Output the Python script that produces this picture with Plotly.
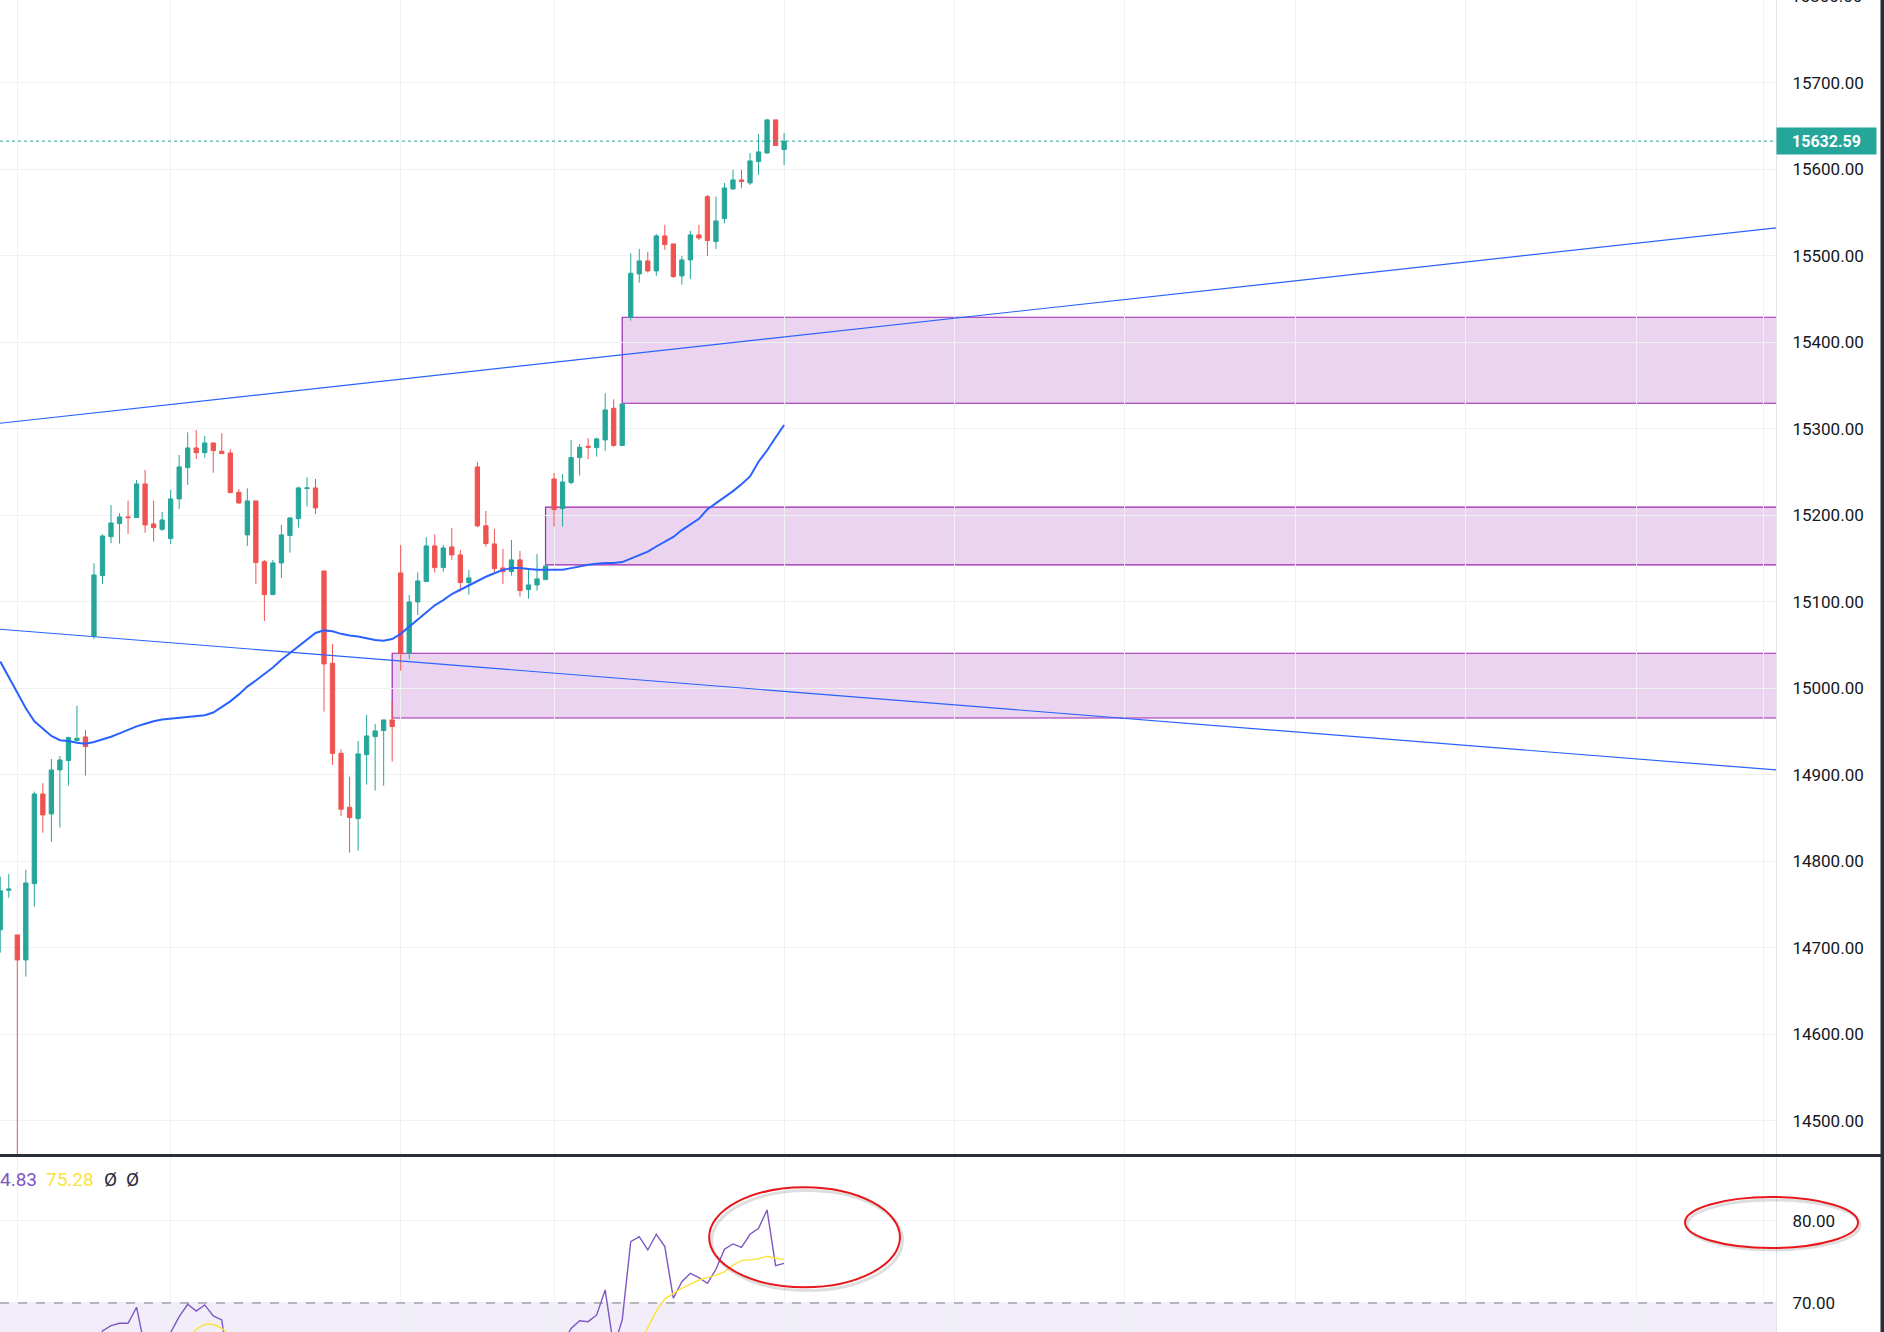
import plotly.graph_objects as go

# ---------------- data ----------------
candle_idx = list(range(-2, 91))

opens = [14720.8, 14766.6, 14714.9, 14686.0, 14774.2, 14877.9, 14854.8, 14905.7, 14916.5, 14939.6,
         14943.8, 15060.6, 15130.3, 15175.4, 15190.5, 15198.2, 15197.4, 15236.3, 15190.1, 15183.9,
         15173.1, 15219.0, 15255.2, 15277.9, 15272.5, 15283.7, 15274.1, 15272.1, 15226.7, 15177.4,
         15216.7, 15146.5, 15108.4, 15145.0, 15176.6, 15196.2, 15231.0, 15231.7, 15135.7, 15029.0,
         14924.9, 14862.5, 14849.4, 14923.4, 14944.2, 14951.1, 14963.5, 15133.4, 15040.6, 15099.9,
         15123.4, 15164.7, 15139.6, 15163.5, 15154.3, 15122.3, 15256.0, 15187.9, 15167.0, 15139.2,
         15135.0, 15148.5, 15114.2, 15119.6, 15125.7, 15242.1, 15207.8, 15237.9, 15266.8, 15279.9,
         15278.3, 15287.2, 15323.8, 15280.7, 15429.0, 15479.1, 15494.2, 15482.6, 15523.1, 15513.8,
         15476.8, 15495.3, 15524.2, 15568.5, 15516.5, 15543.1, 15577.4, 15587.8, 15584.3, 15609.0,
         15619.0, 15657.2, 15622.9]
highs = [14782.3, 14785.4, 14714.9, 14790.1, 14880.6, 14890.3, 14918.4, 14921.9, 14944.2, 14980.0,
         14951.9, 15144.6, 15178.1, 15212.0, 15202.4, 15217.0, 15240.9, 15252.5, 15217.0, 15203.9,
         15229.4, 15269.8, 15296.0, 15298.7, 15291.8, 15283.7, 15294.9, 15276.4, 15230.5, 15231.3,
         15216.7, 15148.5, 15148.5, 15188.9, 15197.8, 15233.2, 15244.0, 15242.1, 15135.7, 15051.3,
         14929.6, 14898.0, 14939.2, 14969.3, 14958.9, 14963.5, 14984.7, 15165.8, 15108.0, 15134.2,
         15174.7, 15178.1, 15165.8, 15185.5, 15160.0, 15136.9, 15261.8, 15205.1, 15184.3, 15161.2,
         15171.6, 15158.9, 15137.7, 15155.4, 15146.5, 15249.0, 15247.9, 15287.2, 15282.6, 15289.1,
         15289.9, 15341.2, 15334.2, 15328.8, 15503.0, 15508.0, 15504.6, 15525.4, 15535.8, 15513.8,
         15499.9, 15528.8, 15535.8, 15570.5, 15568.5, 15584.3, 15599.4, 15599.4, 15619.0, 15641.0,
         15658.3, 15657.2, 15642.1]
lows = [14694.5, 14758.0, 14380.0, 14666.7, 14747.6, 14833.2, 14822.8, 14839.0, 14887.6, 14938.4,
        14899.1, 15056.7, 15120.7, 15167.7, 15167.3, 15178.5, 15197.4, 15180.0, 15169.6, 15182.0,
        15166.9, 15207.4, 15235.2, 15265.2, 15266.8, 15249.4, 15271.4, 15226.3, 15213.2, 15164.6,
        15120.7, 15077.9, 15108.4, 15127.6, 15156.9, 15185.8, 15210.1, 15201.6, 14973.1, 14911.5,
        14852.5, 14810.1, 14812.4, 14888.7, 14881.8, 14887.6, 14915.3, 15020.5, 15033.6, 15084.9,
        15123.4, 15133.8, 15135.0, 15148.5, 15111.9, 15108.4, 15186.2, 15163.9, 15132.3, 15120.7,
        15130.4, 15106.1, 15103.8, 15113.0, 15125.7, 15187.0, 15187.0, 15235.9, 15246.0, 15264.9,
        15267.9, 15274.9, 15279.5, 15280.7, 15425.2, 15469.1, 15480.7, 15476.8, 15506.9, 15474.5,
        15466.8, 15473.3, 15518.4, 15499.9, 15508.0, 15537.7, 15576.2, 15578.2, 15582.0, 15593.6,
        15618.0, 15627.5, 15605.1]
closes = [14765.9, 14768.0, 14686.0, 14775.0, 14877.9, 14853.7, 14905.7, 14917.2, 14943.1, 14942.3,
          14932.7, 15131.1, 15176.2, 15191.2, 15198.2, 15197.4, 15236.3, 15188.9, 15185.8, 15194.7,
          15219.0, 15256.0, 15277.9, 15272.5, 15283.7, 15274.8, 15271.4, 15226.3, 15214.3, 15216.7,
          15145.4, 15108.4, 15145.0, 15177.4, 15197.0, 15231.7, 15231.7, 15208.6, 15028.2, 14924.9,
          14860.2, 14850.6, 14924.2, 14945.0, 14950.8, 14963.5, 14955.8, 15040.6, 15099.9, 15124.2,
          15164.7, 15139.6, 15162.3, 15154.3, 15122.3, 15127.7, 15187.8, 15167.4, 15138.5, 15135.0,
          15148.5, 15113.0, 15119.6, 15126.5, 15141.5, 15206.7, 15238.6, 15266.8, 15278.7, 15278.7,
          15288.4, 15321.9, 15280.7, 15328.8, 15479.9, 15494.2, 15482.6, 15523.1, 15513.0, 15476.0,
          15495.3, 15524.2, 15520.7, 15517.7, 15540.4, 15578.5, 15587.8, 15585.9, 15609.8, 15620.2,
          15657.2, 15627.5, 15632.59]

# moving average (blue) read at each candle
ma_values = [15031, 15013, 14995, 14977, 14962, 14954, 14945, 14940, 14939, 14937,
             14936, 14938, 14941, 14944, 14948, 14952, 14956, 14959, 14962, 14964,
             14965, 14966, 14967, 14968, 14969, 14972, 14978, 14985, 14993, 15002,
             15009, 15016, 15024, 15033, 15041, 15049, 15056, 15064, 15067, 15066,
             15063, 15061, 15060, 15058, 15056, 15055, 15057, 15063, 15071, 15080,
             15088, 15096, 15102, 15109, 15114, 15119, 15124, 15129, 15133, 15137,
             15139, 15139, 15138, 15137, 15137, 15137, 15137, 15139, 15141, 15143,
             15144, 15145, 15145, 15146, 15150, 15154, 15158, 15164, 15170, 15175,
             15183, 15190, 15196, 15207, 15214, 15220, 15228, 15236, 15245, 15262,
             15275, 15290, 15304.5]

# RSI (purple) per candle
rsi_values = [55, 56, 50, 57, 62, 59, 61, 62, 63, 63,
              62, 62, 66.6, 67.23, 67.52, 67.52, 69.48, 64.4, 63.5, 63.8,
              66.4, 68.33, 69.84, 69.02, 69.76, 68.41, 67.93, 60.4, 58.5, 58.8,
              52, 49, 53, 56, 58, 61, 61, 58, 47, 40,
              36, 35, 43, 45, 46, 47, 46, 55, 58, 60,
              63, 60, 62, 61, 57, 57.5, 62.5, 60, 57, 57,
              58.5, 55, 55.5, 56.5, 58, 62.5, 65.0, 66.9, 67.84, 67.72,
              68.54, 71.59, 64.6, 67.93, 77.48, 78.09, 76.46, 78.38, 76.87, 70.57,
              72.6, 73.62, 73.09, 72.40, 74.11, 76.55, 77.20, 76.79, 78.38, 79.11,
              81.34, 74.55, 74.83]

# RSI-based MA (yellow), visible stretches
rsi_ma_x_a = list(range(19, 27))
rsi_ma_y_a = [64.5, 65.5, 66.8, 67.4, 67.4, 66.9, 66.0, 65.0]
rsi_ma_x_b = list(range(72, 91))
rsi_ma_y_b = [63.0, 65.0, 67.0, 69.0, 70.5, 71.2, 71.8, 72.3, 72.8, 73.1,
              73.4, 73.8, 74.6, 75.2, 75.25, 75.4, 75.7, 75.45, 75.28]

# trend lines (index, price)
trend_up_x = [-3, 207]
trend_up_y = [15305.4, 15533.0]
trend_dn_x = [-3, 207]
trend_dn_y = [15069.1, 14905.2]

# fair value gap boxes: (start index, bottom, top)
fvg_start = [71, 62, 44]
fvg_bottom = [15329.6, 15142.7, 14965.7]
fvg_top = [15429.0, 15209.4, 15040.6]

last_price = 15632.59
price_ticks = [14500, 14600, 14700, 14800, 14900, 15000, 15100, 15200, 15300, 15400, 15500, 15600, 15700]
top_cut_tick = 15800
rsi_ticks = [70, 80]
grid_idx = [0, 18, 45, 63, 90, 110, 130, 150, 170, 190, 205]

rsi_legend_vals = ["4.83", "75.28"]

# ---------------- styling ----------------
W, H = 1884, 1332
PLOT_W = 1776
UP = "#26a69a"
DN = "#ef5350"
BLUE = "#2962ff"
GRID = "#f0f1f3"
TXT = "#131722"
FONT = "Roboto"

X_RANGE = [-2.03, 206.42]
PRICE_RANGE = [14460.5, 15795.8]
RSI_RANGE = [66.46, 87.8]


def px(xpix):
    return xpix / PLOT_W


def py(ypix):
    return 1 - ypix / H


fig = go.Figure()

fig.add_trace(go.Candlestick(
    x=candle_idx, open=opens, high=highs, low=lows, close=closes,
    increasing=dict(line=dict(color=UP, width=1), fillcolor=UP),
    decreasing=dict(line=dict(color=DN, width=1), fillcolor=DN),
    whiskerwidth=0, xaxis="x", yaxis="y", showlegend=False, hoverinfo="skip"))

fig.add_trace(go.Scatter(x=candle_idx, y=ma_values, mode="lines",
                         line=dict(color=BLUE, width=2), xaxis="x", yaxis="y",
                         showlegend=False, hoverinfo="skip"))
fig.add_trace(go.Scatter(x=trend_up_x, y=trend_up_y, mode="lines",
                         line=dict(color=BLUE, width=1.2), xaxis="x", yaxis="y",
                         showlegend=False, hoverinfo="skip"))
fig.add_trace(go.Scatter(x=trend_dn_x, y=trend_dn_y, mode="lines",
                         line=dict(color=BLUE, width=1.2), xaxis="x", yaxis="y",
                         showlegend=False, hoverinfo="skip"))

# RSI panel
fig.add_trace(go.Scatter(x=candle_idx, y=rsi_values, mode="lines",
                         line=dict(color="#7e57c2", width=1.4), xaxis="x", yaxis="y2",
                         showlegend=False, hoverinfo="skip"))
fig.add_trace(go.Scatter(x=rsi_ma_x_a, y=rsi_ma_y_a, mode="lines",
                         line=dict(color="#fbe33b", width=1.4), xaxis="x", yaxis="y2",
                         showlegend=False, hoverinfo="skip"))
fig.add_trace(go.Scatter(x=rsi_ma_x_b, y=rsi_ma_y_b, mode="lines",
                         line=dict(color="#fbe33b", width=1.4), xaxis="x", yaxis="y2",
                         showlegend=False, hoverinfo="skip"))

shapes = []
# RSI band 30-70
shapes.append(dict(type="rect", xref="x", yref="y2", x0=X_RANGE[0] - 5, x1=X_RANGE[1] + 5, y0=30, y1=70,
                   fillcolor="rgba(126,87,194,0.10)", line=dict(width=0), layer="below"))
shapes.append(dict(type="line", xref="paper", yref="y2", x0=0, x1=1, y0=70, y1=70,
                   line=dict(color="#787b86", width=1, dash="dash")))
# FVG boxes
for s, b, t in zip(fvg_start, fvg_bottom, fvg_top):
    shapes.append(dict(type="rect", xref="x", yref="y", x0=s, x1=X_RANGE[1] + 3, y0=b, y1=t,
                       fillcolor="rgba(156,39,176,0.2)", line=dict(color="#9c27b0", width=1.2),
                       layer="below"))
# last price dotted line
shapes.append(dict(type="line", xref="paper", yref="y", x0=0, x1=1, y0=last_price, y1=last_price,
                   line=dict(color=UP, width=1, dash="dot")))
# separator between panes
shapes.append(dict(type="line", xref="paper", yref="paper", x0=0, x1=px(W), y0=py(1155.5), y1=py(1155.5),
                   line=dict(color="#2a2e39", width=3)))
# right dark border
shapes.append(dict(type="rect", xref="paper", yref="paper", x0=px(1880.5), x1=px(1886), y0=0, y1=1,
                   fillcolor="#2a2e39", line=dict(width=0)))
# red ellipses (hand drawn marks) with soft shadow
ell1 = dict(x0=81.2, x1=103.6, y0=71.91, y1=84.11)
shapes.append(dict(type="circle", xref="x", yref="y2", x0=ell1["x0"] + 0.3, x1=ell1["x1"] + 0.3,
                   y0=ell1["y0"] - 0.4, y1=ell1["y1"] - 0.4,
                   line=dict(color="rgba(0,0,0,0.13)", width=3)))
shapes.append(dict(type="circle", xref="x", yref="y2", **ell1, line=dict(color="#e8171b", width=2)))
shapes.append(dict(type="circle", xref="paper", yref="paper", x0=px(1687), x1=px(1860),
                   y0=py(1250), y1=py(1200), line=dict(color="rgba(0,0,0,0.13)", width=3)))
shapes.append(dict(type="circle", xref="paper", yref="paper", x0=px(1685), x1=px(1858),
                   y0=py(1248), y1=py(1197), line=dict(color="#e8171b", width=2)))

annotations = []
annotations.append(dict(xref="paper", yref="y", x=1, y=last_price, xanchor="left", yanchor="middle",
                        text="<b>%.2f</b>" % last_price, showarrow=False,
                        font=dict(family=FONT, size=16, color="white"),
                        bgcolor=UP, borderpad=4, width=91, height=18, align="center"))
# the 15800 tick sits just above the top edge, only partly visible
top_tick_pix = 82.9 - (top_cut_tick - 15700) * 0.865
annotations.append(dict(xref="paper", yref="paper", x=1, y=py(top_tick_pix), xanchor="left",
                        yanchor="middle", xshift=13, text="%.2f" % top_cut_tick, showarrow=False,
                        font=dict(family=FONT, size=17, color=TXT)))
legend_y = py(1179.5)
annotations.append(dict(xref="paper", yref="paper", x=px(-2), y=legend_y, xanchor="left", yanchor="middle",
                        text=rsi_legend_vals[0], showarrow=False,
                        font=dict(family=FONT, size=19, color="#7e57c2")))
annotations.append(dict(xref="paper", yref="paper", x=px(44), y=legend_y, xanchor="left", yanchor="middle",
                        text=rsi_legend_vals[1], showarrow=False,
                        font=dict(family=FONT, size=19, color="#fbe33b")))
annotations.append(dict(xref="paper", yref="paper", x=px(102), y=legend_y, xanchor="left", yanchor="middle",
                        text="Ø", showarrow=False, font=dict(family=FONT, size=19, color="#2a2e39")))
annotations.append(dict(xref="paper", yref="paper", x=px(124), y=legend_y, xanchor="left", yanchor="middle",
                        text="Ø", showarrow=False, font=dict(family=FONT, size=19, color="#2a2e39")))

axis_font = dict(family=FONT, size=17, color=TXT)

fig.update_layout(
    width=W, height=H,
    margin=dict(l=0, r=W - PLOT_W, t=0, b=0),
    paper_bgcolor="white", plot_bgcolor="white",
    showlegend=False, boxgap=0.28, hovermode=False,
    xaxis=dict(domain=[0, 1], range=X_RANGE, anchor="y2", showticklabels=False,
               tickvals=grid_idx, ticks="", showgrid=True, gridcolor=GRID, gridwidth=1,
               zeroline=False, showline=False, rangeslider=dict(visible=False), fixedrange=True),
    yaxis=dict(domain=[py(1155), 1], range=PRICE_RANGE, side="right", anchor="x",
               tickvals=price_ticks, ticktext=["%.2f" % v for v in price_ticks],
               showgrid=True, gridcolor=GRID, gridwidth=1, zeroline=False,
               showline=True, linecolor="#e0e3eb", linewidth=1, ticks="",
               ticklabelstandoff=12, tickfont=axis_font, fixedrange=True),
    yaxis2=dict(domain=[0, py(1157)], range=RSI_RANGE, side="right", anchor="x",
                tickvals=rsi_ticks, ticktext=["%.2f" % v for v in rsi_ticks],
                showgrid=True, gridcolor=GRID, gridwidth=1, zeroline=False,
                showline=True, linecolor="#e0e3eb", linewidth=1, ticks="",
                ticklabelstandoff=12, tickfont=axis_font, fixedrange=True),
    shapes=shapes,
    annotations=annotations,
)

fig.write_html("out.html", config={"displayModeBar": False},
               post_script="document.body.style.margin='0px';document.body.style.overflow='hidden';")
